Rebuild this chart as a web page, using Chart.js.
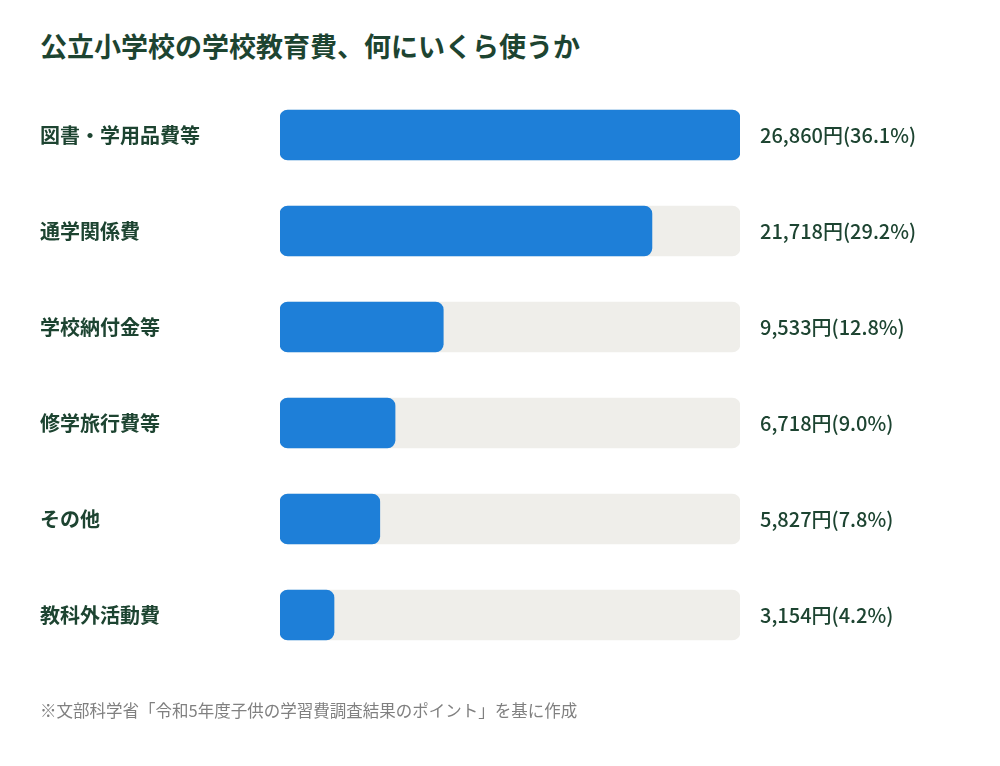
<!doctype html>
<html>
<head>
<meta charset="utf-8">
<title>公立小学校の学校教育費</title>
<script src="https://cdn.jsdelivr.net/npm/chart.js"></script>
<style>
    body { margin: 0; background: #fff; font-family: "Noto Sans CJK JP", sans-serif; }
    #wrap { position: relative; width: 1000px; height: 766px; }
    #title { position: absolute; left: 40px; top: 26px; margin: 0; font-size: 27px; font-weight: 700; color: #1d4431; }
    #note { position: absolute; left: 40px; top: 698px; margin: 0; font-size: 16.5px; color: #808080; }
    #myChart { position: absolute; left: 0; top: 0; }
</style>
</head>
<body>
<div id="wrap">
    <h1 id="title">公立小学校の学校教育費、何にいくら使うか</h1>
    <canvas id="myChart" width="1000" height="766"></canvas>
    <p id="note">※文部科学省「令和5年度子供の学習費調査結果のポイント」を基に作成</p>
</div>

<script>
    var categories = ['図書・学用品費等', '通学関係費', '学校納付金等', '修学旅行費等', 'その他', '教科外活動費'];
    var amounts = [26860, 21718, 9533, 6718, 5827, 3154];
    var shares = ['36.1', '29.2', '12.8', '9.0', '7.8', '4.2'];
    var trackMax = 26860;

    var textColor = '#1d4431';

    // 金額と割合をバーの右に描く
    var valueLabels = {
        id: 'valueLabels',
        afterDatasetsDraw: function (chart) {
            var ctx = chart.ctx;
            var meta = chart.getDatasetMeta(1);
            ctx.save();
            ctx.font = '500 20px "Noto Sans CJK JP"';
            ctx.fillStyle = textColor;
            ctx.textAlign = 'left';
            ctx.textBaseline = 'middle';
            meta.data.forEach(function (bar, i) {
                var txt = amounts[i].toLocaleString('en-US') + '円(' + shares[i] + '%)';
                ctx.fillText(txt, chart.chartArea.right + 20, bar.y);
            });
            ctx.restore();
        }
    };

    var casesChart = new Chart(document.getElementById('myChart'), {
        type: 'bar',
        data: {
            labels: categories,
            datasets: [{
                label: 'track',
                data: categories.map(function () { return trackMax; }),
                backgroundColor: '#efeeea',
                borderRadius: 8,
                borderSkipped: false,
                barThickness: 50,
                grouped: false,
                order: 2
            }, {
                label: '金額',
                data: amounts,
                backgroundColor: '#1e7fd8',
                borderRadius: 8,
                borderSkipped: false,
                barThickness: 50,
                grouped: false,
                order: 1
            }]
        },
        plugins: [valueLabels],
        options: {
            indexAxis: 'y',
            responsive: false,
            animation: false,
            layout: {
                padding: { left: 40, right: 260, top: 87, bottom: 103 }
            },
            plugins: {
                legend: { display: false },
                tooltip: { enabled: false }
            },
            scales: {
                x: {
                    min: 0,
                    max: trackMax,
                    display: false
                },
                y: {
                    grid: { display: false },
                    border: { display: false },
                    afterFit: function (scale) { scale.width = 240; },
                    ticks: {
                        crossAlign: 'far',
                        padding: 0,
                        color: textColor,
                        font: { family: '"Noto Sans CJK JP"', size: 20, weight: 'bold' }
                    }
                }
            }
        }
    });
</script>
</body>
</html>
